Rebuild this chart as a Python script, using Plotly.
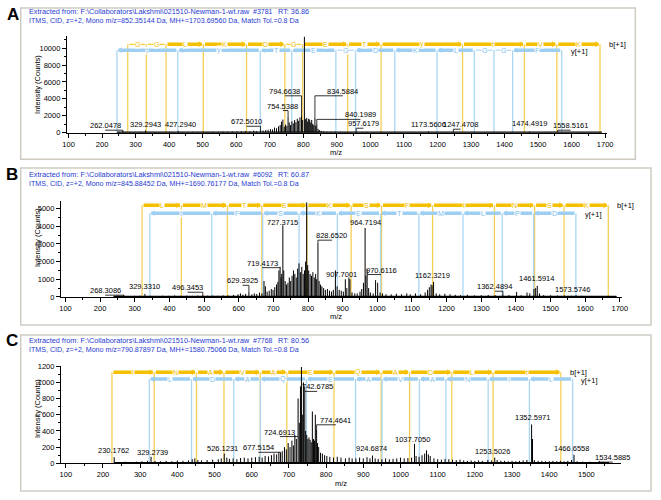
import plotly.graph_objects as go

W, H = 661, 500
FONT = "Arial, 'Liberation Sans', sans-serif"
HEAD_BLUE = "#1f3bd1"
B_BAR = "#F5C000"
B_TXT = "#EDB800"
B_LINE = "#F6CF55"
Y_BAR = "#9ECFF2"
Y_TXT = "#7FBDEB"
Y_LINE = "#AAD6F4"

# ======================= PANEL A DATA =======================
A_mz = [245, 252, 262.05, 270, 283, 296, 310, 318, 329.29, 340, 356, 372, 388, 401, 414, 427.29,
        440, 455, 470, 486, 501, 515, 531, 546, 560, 574, 588, 602, 615, 628, 641, 652, 660, 672.5,
        680, 688, 695, 702, 708, 714, 720, 726, 731, 735, 739, 743, 747, 751, 754.54, 758, 762, 766,
        770, 774, 778, 782, 786, 790, 794.66, 798, 803.21, 807, 810, 813, 816, 819, 822, 825, 828,
        831, 834.59, 837, 840.2, 844, 848, 853, 860, 870, 882, 895, 910, 925, 940, 957.62, 975, 990,
        1010, 1030, 1060, 1090, 1120, 1150, 1173.56, 1200, 1225, 1247.47, 1270, 1300, 1340, 1380,
        1420, 1450, 1474.49, 1500, 1530, 1558.52, 1590, 1620, 1660, 1690]
A_int = [60, 90, 180, 50, 70, 60, 80, 50, 260, 60, 70, 50, 80, 110, 60, 200,
         70, 60, 90, 70, 120, 80, 100, 90, 130, 110, 150, 120, 170, 200, 160, 230, 180, 380,
         260, 300, 350, 420, 380, 600, 520, 750, 900, 1300, 1550, 700, 950, 800, 1900, 1200, 900, 1350,
         1100, 1500, 1250, 1650, 1400, 1800, 1950, 1500, 11350, 1600, 1750, 1300, 1650, 1550, 1200, 1500, 1050,
         900, 1750, 800, 1050, 450, 300, 220, 160, 130, 110, 120, 90, 80, 70, 180, 60, 70,
         50, 60, 50, 45, 50, 45, 140, 45, 40, 140, 40, 40, 35, 40,
         35, 40, 120, 40, 35, 130, 40, 35, 30, 30]
A_label_mz = [262.0478, 329.2943, 427.2940, 672.5010, 754.5388, 794.6638, 803.2118, 834.5884,
              840.1989, 957.6179, 1173.5606, 1247.4708, 1474.4919, 1558.5161]
A_b_ions = [276.5, 332.1, 390.7, 501.9, 630.7, 744.9, 797.6, 932.2, 1031.8, 1274.7, 1459.1, 1555.7, 1684.5]
A_b_seq = ["G", "G", "L", "K", "D", "G", "E", "T", "y", "t", "V", "K"]
A_y_ions = [244.3, 425.8, 671.7, 765.4, 897.1, 955.7, 1072.7, 1198.6, 1309.9, 1368.4, 1424.0, 1570.4]
A_y_seq = ["t", "y", "T", "E", "G", "D", "K", "L", "G", "G", "F"]
A_header = ["Extracted from: F:\\Collaborators\\Lakshmi\\021510-Newman-1-wt.raw", "#3781", "RT: 36.86",
            "ITMS, CID, z=+2, Mono m/z=852.35144 Da, MH+=1703.69560 Da, Match Tol.=0.8 Da"]

# ======================= PANEL B DATA =======================
B_mz = [240, 252, 268.31, 285, 300, 315, 329.33, 345, 362, 380, 398, 415, 432, 450, 467, 482, 496.35,
        510, 525, 540, 555, 570, 585, 598, 605, 612, 620, 629.39, 638, 645, 652, 660, 667, 673, 677,
        682, 688, 694, 699, 704, 709, 713, 716, 719.42, 722, 724, 727.37, 730, 734, 738, 742, 746,
        750, 754, 758, 762, 766, 770, 774, 778, 782, 786, 790, 793, 796.13, 799, 802, 806, 810, 814,
        818, 822, 825, 828.65, 832, 836, 840, 845, 850, 856, 862, 868, 873, 879, 884, 890, 896, 902,
        907.7, 912, 918, 921, 927, 935, 942, 950, 955, 960, 964.72, 967, 970.61, 975, 980, 988, 995,
        1001, 1008, 1015, 1025, 1040, 1055, 1070, 1085, 1095, 1110, 1125, 1138, 1145, 1150, 1155,
        1158, 1162.32, 1170, 1180, 1195, 1210, 1225, 1240, 1260, 1280, 1300, 1320, 1340, 1362.49,
        1380, 1402, 1415, 1432, 1440, 1452, 1457, 1461.59, 1468, 1480, 1500, 1520, 1540, 1560,
        1573.57, 1590, 1610, 1630, 1650, 1670, 1690]
B_int = [60, 80, 120, 50, 60, 70, 170, 60, 50, 70, 60, 80, 60, 70, 60, 80, 130,
         70, 80, 70, 90, 80, 110, 150, 200, 130, 170, 280, 150, 200, 160, 240, 200, 900, 600,
         300, 350, 450, 400, 550, 700, 850, 1500, 1700, 1100, 1300, 4050, 1500, 900, 700, 800, 1100,
         900, 1200, 1500, 1300, 1100, 1600, 1900, 1400, 1700, 1300, 1500, 2000, 5350, 1800, 1500, 1300, 1200, 1400,
         1100, 1300, 1000, 3050, 900, 700, 600, 500, 400, 450, 350, 300, 400, 1500, 600, 400, 350, 300,
         1000, 500, 1100, 1000, 250, 200, 200, 300, 450, 800, 3900, 1200, 1550, 500, 250, 200, 950,
         800, 250, 200, 150, 150, 180, 150, 200, 150, 200, 150, 250, 400, 550, 700,
         650, 850, 200, 150, 180, 150, 120, 100, 120, 90, 100, 110, 100, 150,
         110, 280, 100, 250, 200, 450, 500, 630, 200, 100, 90, 80, 80, 70,
         90, 60, 50, 50, 40, 40, 30]
B_label_mz = [268.3086, 329.3310, 496.3453, 629.3925, 719.4173, 727.3715, 796.1317, 828.6520,
              907.7001, 964.7194, 970.6116, 1162.3219, 1362.4894, 1461.5914, 1573.5746]
B_b_ions = [321.0, 434.3, 567.4, 666.6, 796.9, 924.4, 1012.2, 1159.5, 1338.0, 1454.0, 1539.0, 1666.6]
B_b_seq = ["L", "M", "T", "E", "K", "S", "F", "t", "N", "S", "K"]
B_y_ions = [343.6, 522.1, 669.4, 774.2, 884.7, 1009.3, 1119.8, 1247.3, 1360.6, 1451.3, 1573.1]
B_y_seq = ["t", "F", "S", "K", "E", "T", "M", "L", "P", "D"]
B_header = ["Extracted from: F:\\Collaborators\\Lakshmi\\021510-Newman-1-wt.raw", "#6092", "RT: 60.87",
            "ITMS, CID, z=+2, Mono m/z=845.88452 Da, MH+=1690.76177 Da, Match Tol.=0.8 Da"]

# ======================= PANEL C DATA =======================
C_mz = [230.18, 245, 260, 275, 290, 305, 320, 329.27, 340, 355, 370, 385, 400, 415, 430, 440, 447,
        455, 465, 480, 495, 510, 518, 526.12, 533, 540, 550, 560, 570, 580, 590, 600, 610, 620, 628,
        636, 645, 653, 660, 667, 673, 677.52, 682, 688, 693, 698, 703, 708, 712, 716, 720, 724.69,
        728, 731, 733.66, 736, 739, 742.68, 745, 748, 751, 754, 757, 760, 763, 766, 769, 771, 774.46,
        777, 780, 785, 790, 796, 802, 810, 820, 830, 840, 852, 862, 870, 880, 890, 900, 910, 918,
        924.69, 932, 940, 950, 960, 970, 980, 990, 1000, 1010, 1020, 1030, 1037.71, 1042, 1050, 1058,
        1065, 1070, 1075, 1080, 1090, 1100, 1110, 1120, 1130, 1140, 1150, 1160, 1170, 1180, 1190,
        1200, 1210, 1220, 1235, 1245, 1253.5, 1260, 1270, 1280, 1290, 1300, 1310, 1320, 1330, 1340,
        1352.6, 1355, 1360, 1370, 1380, 1390, 1400, 1410, 1420, 1430, 1440, 1450, 1460, 1466.66,
        1475, 1490, 1510, 1534.59, 1550, 1560]
C_int = [75, 15, 20, 15, 20, 25, 30, 80, 30, 25, 30, 25, 35, 30, 35, 50, 60,
         40, 35, 40, 45, 50, 60, 120, 70, 55, 60, 50, 65, 70, 60, 70, 75, 80, 70,
         90, 85, 100, 120, 110, 140, 130, 150, 200, 170, 250, 200, 280, 220, 350, 300, 800,
         500, 950, 1190, 600, 1000, 940, 400, 350, 300, 320, 290, 260, 640, 300, 280, 600, 420,
         250, 200, 130, 120, 100, 90, 80, 70, 80, 70, 60, 70, 60, 60, 70, 60, 75, 60,
         95, 60, 55, 50, 60, 50, 55, 60, 70, 60, 65, 70, 240, 90, 80, 100,
         120, 160, 110, 90, 60, 50, 45, 55, 50, 45, 40, 45, 35, 30, 35,
         30, 35, 30, 40, 35, 70, 40, 30, 30, 25, 30, 25, 30, 35, 40,
         480, 300, 40, 30, 30, 25, 25, 30, 25, 30, 25, 30, 40, 105,
         25, 20, 20, 30, 15, 15]
C_label_mz = [230.1762, 329.2739, 526.1231, 677.5154, 724.6913, 733.6621, 742.6785, 774.4641,
              924.6874, 1037.7050, 1253.5026, 1352.5971, 1466.6558, 1534.5885]
C_b_ions = [224.1, 337.7, 451.3, 525.3, 623.0, 694.3, 821.1, 947.9, 1024.5, 1138.0, 1249.0, 1431.2]
C_b_seq = ["I", "N", "A", "V", "A", "E", "Q", "A", "D", "L", "t"]
C_y_ions = [324.5, 438.1, 551.7, 623.0, 747.1, 879.2, 950.5, 1050.9, 1122.2, 1235.8, 1346.7, 1462.9]
C_y_seq = ["L", "D", "A", "Q", "E", "A", "V", "A", "N", "I", "L"]
C_header = ["Extracted from: F:\\Collaborators\\Lakshmi\\021510-Newman-1-wt.raw", "#7768", "RT: 80.56",
            "ITMS, CID, z=+2, Mono m/z=790.87897 Da, MH+=1580.75066 Da, Match Tol.=0.8 Da"]

# ======================= LAYOUT (pixel geometry) =======================
panels = [
    dict(tag="A", mz=A_mz, inten=A_int, lab=A_label_mz, b=A_b_ions, bseq=A_b_seq, yi=A_y_ions, yseq=A_y_seq,
         head=A_header, xpx=(63, 613), xr=(95, 1705), ypx=(131, 32.1), yr=(0, 11500), ydt=2000, ymin=1000,
         bpy=41, ypy=47, box=(16, 4, 642, 158), letter=(8, 11), hpy=(8, 17), ytl=(33, 82), mzt=(337, 151),
         lpos=[(102, 124), (143, 123), (179, 123), (246, 120), (283, 104), (285, 89), (306, 28), (344, 89),
               (362, 113), (365, 122), (431, 123), (464, 123), (534, 122), (576, 124)]),
    dict(tag="B", mz=B_mz, inten=B_int, lab=B_label_mz, b=B_b_ions, bseq=B_b_seq, yi=B_y_ions, yseq=B_y_seq,
         head=B_header, xpx=(57, 628), xr=(87, 1705), ypx=(298.3, 201.1), yr=(0, 5400), ydt=1000, ymin=500,
         bpy=205, ypy=213, box=(16, 167, 658, 327), letter=(7, 174), hpy=(174, 183), ytl=(33, 238), mzt=(337, 318),
         lpos=[(102, 292), (142, 288), (186, 289), (242, 282), (262, 264), (283, 222), (307, 195), (333, 236),
               (343, 275), (367, 222), (383, 271), (435, 276), (499, 288), (541, 280), (578, 291)]),
    dict(tag="C", mz=C_mz, inten=C_int, lab=C_label_mz, b=C_b_ions, bseq=C_b_seq, yi=C_y_ions, yseq=C_y_seq,
         head=C_header, xpx=(57, 627), xr=(87, 1592), ypx=(467.7, 368.8), yr=(0, 1200), ydt=200, ymin=100,
         bpy=375, ypy=382, box=(16, 337, 658, 496), letter=(7, 343), hpy=(343, 352), ytl=(33, 412), mzt=(342, 488),
         lpos=[(110, 455), (150, 457), (222, 453), (258, 452), (280, 436), (302, 363), (318, 390), (337, 424),
               (373, 453), (415, 443), (497, 456), (537, 421), (577, 453), (619, 462)]),
]

fig = go.Figure()
annotations = []
shapes = []
layout_axes = {}


def px(xp):
    return xp / W


def py(yp):
    return 1 - yp / H


for k, p in enumerate(panels):
    sfx = "" if k == 0 else str(k + 1)
    xa, ya = "x" + sfx, "y" + sfx
    x0p, x1p = p["xpx"]
    ybp, ytp = p["ypx"]
    sx = (x1p - x0p) / (p["xr"][1] - p["xr"][0])
    sy = (ybp - ytp) / (p["yr"][1] - p["yr"][0])

    def mzx(xp, p=p, sx=sx, x0p=x0p):
        return p["xr"][0] + (xp - x0p) / sx

    def iny(yp, sy=sy, ybp=ybp):
        return (ybp - yp) / sy

    layout_axes["xaxis" + sfx] = dict(
        domain=[px(x0p), px(x1p)], range=list(p["xr"]), anchor=ya, showline=True, linecolor="black",
        linewidth=1, ticks="outside", ticklen=4, tickwidth=1, tickcolor="black", dtick=100, tick0=0,
        tickformat="d", minor=dict(dtick=50, ticklen=2, ticks="outside", tickcolor="black"),
        showgrid=False, zeroline=False, tickfont=dict(size=7.5, family=FONT, color="black"), fixedrange=True)
    layout_axes["yaxis" + sfx] = dict(
        domain=[py(ybp), py(ytp)], range=list(p["yr"]), anchor=xa, showline=True, linecolor="black",
        linewidth=1, ticks="outside", ticklen=4, tickwidth=1, tickcolor="black", dtick=p["ydt"], tick0=0,
        tickformat="d", minor=dict(dtick=p["ymin"], ticklen=2, ticks="outside", tickcolor="black"),
        showgrid=False, zeroline=False, tickfont=dict(size=7.5, family=FONT, color="black"), fixedrange=True)

    yb_data = iny(p["bpy"])
    yy_data = iny(p["ypy"])

    # ion vertical lines
    xs, ys = [], []
    for m in p["b"]:
        xs += [m, m, None]; ys += [0, yb_data, None]
    fig.add_trace(go.Scatter(x=xs, y=ys, mode="lines", line=dict(color=B_LINE, width=1.3),
                             xaxis=xa, yaxis=ya, hoverinfo="skip", showlegend=False))
    xs, ys = [], []
    for m in p["yi"]:
        xs += [m, m, None]; ys += [0, yy_data, None]
    fig.add_trace(go.Scatter(x=xs, y=ys, mode="lines", line=dict(color=Y_LINE, width=1.3),
                             xaxis=xa, yaxis=ya, hoverinfo="skip", showlegend=False))

    # ladders
    g = 1.5 / sx
    ah = 2.0 / sx
    for ions, seq, yv, col, tcol, direction in [(p["b"], p["bseq"], yb_data, B_BAR, B_TXT, 1),
                                                 (p["yi"], p["yseq"], yy_data, Y_BAR, Y_TXT, -1)]:
        thick_x, thick_y, thin_x, thin_y, tip_x, tip_y = [], [], [], [], [], []
        for i, letter in enumerate(seq):
            a, b = ions[i] + g, ions[i + 1] - g
            if letter == "G":
                thin_x += [a, b, None]; thin_y += [yv, yv, None]
            else:
                thick_x += [a, b, None]; thick_y += [yv, yv, None]
                tip_x.append(b - ah if direction == 1 else a + ah); tip_y.append(yv)
            annotations.append(dict(x=(ions[i] + ions[i + 1]) / 2, y=yv, xref=xa, yref=ya, text=letter,
                                    showarrow=False, font=dict(size=7, family=FONT, color=tcol),
                                    bgcolor="white", borderpad=0, xanchor="center", yanchor="middle"))
        fig.add_trace(go.Scatter(x=thin_x, y=thin_y, mode="lines", line=dict(color=col, width=1),
                                 xaxis=xa, yaxis=ya, hoverinfo="skip", showlegend=False))
        fig.add_trace(go.Scatter(x=thick_x, y=thick_y, mode="lines", line=dict(color=col, width=3.5),
                                 xaxis=xa, yaxis=ya, hoverinfo="skip", showlegend=False))
        fig.add_trace(go.Scatter(x=tip_x, y=tip_y, mode="markers",
                                 marker=dict(symbol="triangle-right" if direction == 1 else "triangle-left",
                                             size=5, color=col, line=dict(width=0)),
                                 xaxis=xa, yaxis=ya, hoverinfo="skip", showlegend=False))

    annotations.append(dict(x=p["b"][-1] + 7 / sx, y=yb_data, xref=xa, yref=ya, text="b[+1]", showarrow=False,
                            font=dict(size=7.5, family=FONT, color="black"), xanchor="left", yanchor="middle"))
    annotations.append(dict(x=p["yi"][-1] + 7 / sx, y=yy_data, xref=xa, yref=ya, text="y[+1]", showarrow=False,
                            font=dict(size=7.5, family=FONT, color="black"), xanchor="left", yanchor="middle",
                            yshift=-1))

    # spectrum sticks
    xs, ys = [], []
    for m, v in zip(p["mz"], p["inten"]):
        xs += [m, m, None]; ys += [0, v, None]
    fig.add_trace(go.Scatter(x=xs, y=ys, mode="lines", line=dict(color="black", width=1),
                             xaxis=xa, yaxis=ya, hoverinfo="skip", showlegend=False))
    # dense baseline of noise
    fig.add_trace(go.Scatter(x=[min(p["mz"]), max(p["mz"])], y=[0, 0], mode="lines",
                             line=dict(color="black", width=2.5), xaxis=xa, yaxis=ya,
                             hoverinfo="skip", showlegend=False))

    # peak labels + connectors
    cx, cy = [], []
    for lm, (lxp, lyp) in zip(p["lab"], p["lpos"]):
        j = min(range(len(p["mz"])), key=lambda t: abs(p["mz"][t] - lm))
        pk_int = p["inten"][j]
        lx, ly = mzx(lxp), iny(lyp)
        annotations.append(dict(x=lx, y=ly, xref=xa, yref=ya, text=f"{lm:.4f}", showarrow=False,
                                font=dict(size=7.5, family=FONT, color="black"),
                                xanchor="center", yanchor="middle"))
        if abs(lx - lm) * sx > 4:
            yb = iny(lyp + 4.5)
            cx += [lx, lm]; cy += [yb, yb]
            if pk_int < yb:
                cx += [lm]; cy += [pk_int]
            cx.append(None); cy.append(None)
    fig.add_trace(go.Scatter(x=cx, y=cy, mode="lines", line=dict(color="black", width=0.8),
                             xaxis=xa, yaxis=ya, hoverinfo="skip", showlegend=False))

    # axis titles
    annotations.append(dict(x=px(p["ytl"][0]), y=py(p["ytl"][1]), xref="paper", yref="paper",
                            text="Intensity (Counts)", textangle=-90, showarrow=False,
                            font=dict(size=7.5, family=FONT, color="black"), xanchor="center", yanchor="middle"))
    annotations.append(dict(x=px(p["mzt"][0]), y=py(p["mzt"][1]), xref="paper", yref="paper",
                            text="m/z", showarrow=False,
                            font=dict(size=7.5, family=FONT, color="black"), xanchor="center", yanchor="middle"))
    # header
    annotations.append(dict(x=px(22), y=py(p["hpy"][0]), xref="paper", yref="paper", text=p["head"][0],
                            showarrow=False, font=dict(size=7.3, family=FONT, color=HEAD_BLUE),
                            xanchor="left", yanchor="middle"))
    annotations.append(dict(x=px(251), y=py(p["hpy"][0]), xref="paper", yref="paper", text=p["head"][1],
                            showarrow=False, font=dict(size=7, family=FONT, color=HEAD_BLUE),
                            xanchor="left", yanchor="middle"))
    annotations.append(dict(x=px(276), y=py(p["hpy"][0]), xref="paper", yref="paper", text=p["head"][2],
                            showarrow=False, font=dict(size=7.3, family=FONT, color=HEAD_BLUE),
                            xanchor="left", yanchor="middle"))
    annotations.append(dict(x=px(22), y=py(p["hpy"][1]), xref="paper", yref="paper", text=p["head"][3],
                            showarrow=False, font=dict(size=7.1, family=FONT, color=HEAD_BLUE),
                            xanchor="left", yanchor="middle"))
    # panel letter
    annotations.append(dict(x=px(p["letter"][0]), y=py(p["letter"][1]), xref="paper", yref="paper",
                            text="<b>" + p["tag"] + "</b>", showarrow=False,
                            font=dict(size=17, family=FONT, color="black"), xanchor="center", yanchor="middle"))
    # panel frame
    bx0, by0, bx1, by1 = p["box"]
    shapes.append(dict(type="rect", xref="paper", yref="paper", x0=px(bx0), x1=px(bx1), y0=py(by0), y1=py(by1),
                       line=dict(color="#cfcac2", width=1.5), fillcolor="rgba(0,0,0,0)", layer="below"))

fig.update_layout(width=W, height=H, margin=dict(l=0, r=0, t=0, b=0), paper_bgcolor="white",
                  plot_bgcolor="rgba(0,0,0,0)", showlegend=False, annotations=annotations, shapes=shapes,
                  font=dict(family=FONT), **layout_axes)
fig.write_html("out.html", config={"displayModeBar": False},
               post_script="document.body.style.margin='0px';")
